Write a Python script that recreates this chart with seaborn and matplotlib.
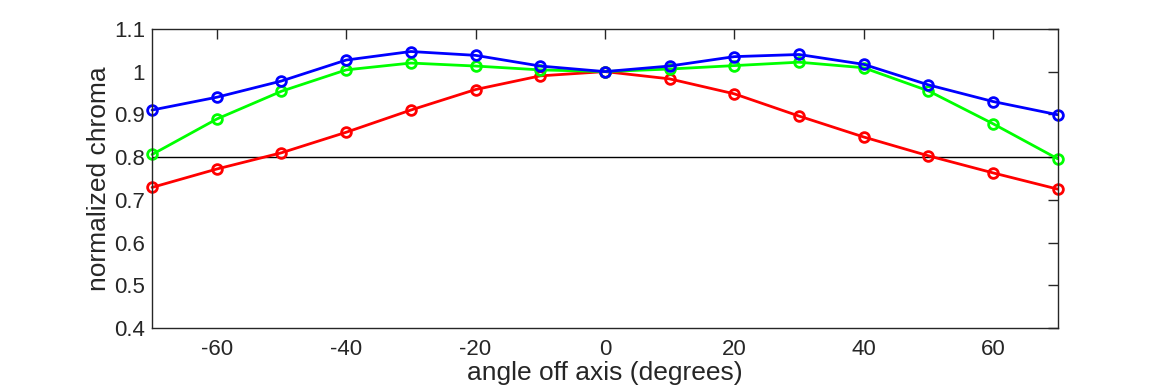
import numpy as np
import pandas as pd
import matplotlib
matplotlib.use("Agg")
import matplotlib.pyplot as plt
import seaborn as sns

angles = [-70, -60, -50, -40, -30, -20, -10, 0, 10, 20, 30, 40, 50, 60, 70]
red = [0.729, 0.772, 0.810, 0.858, 0.910, 0.958, 0.990, 1.000,
       0.983, 0.948, 0.896, 0.847, 0.803, 0.763, 0.725]
green = [0.806, 0.889, 0.954, 1.004, 1.020, 1.013, 1.004, 1.000,
         1.006, 1.014, 1.022, 1.009, 0.955, 0.878, 0.796]
blue = [0.910, 0.940, 0.978, 1.027, 1.047, 1.038, 1.013, 1.000,
        1.013, 1.035, 1.040, 1.017, 0.969, 0.930, 0.899]
reference_level = 0.8

df = pd.DataFrame({
    "angle": angles * 3,
    "chroma": red + green + blue,
    "channel": ["red"] * 15 + ["green"] * 15 + ["blue"] * 15,
})
palette = {"red": "#ff0000", "green": "#00ff00", "blue": "#0000ff"}

sns.set_style("white")
plt.rcParams["font.family"] = ["Liberation Sans", "DejaVu Sans"]
plt.rcParams["axes.unicode_minus"] = False

fig = plt.figure(figsize=(11.7, 3.9), dpi=100)
ax = fig.add_axes([0.130, 0.159, 0.774, 0.767])

ax.axhline(reference_level, color="black", linewidth=1, zorder=1)

sns.lineplot(
    data=df,
    x="angle",
    y="chroma",
    hue="channel",
    palette=palette,
    marker="o",
    markersize=7,
    markerfacecolor="none",
    markeredgewidth=2,
    linewidth=2,
    legend=False,
    ax=ax,
)
for line, c in zip(ax.get_lines()[1:], ["#ff0000", "#00ff00", "#0000ff"]):
    line.set_markeredgecolor(c)
    line.set_clip_on(False)

ax.set_xlim(-70, 70)
ax.set_ylim(0.4, 1.1)
ax.set_xticks([-60, -40, -20, 0, 20, 40, 60])
ax.set_yticks([0.4, 0.5, 0.6, 0.7, 0.8, 0.9, 1.0, 1.1])
ax.set_yticklabels(["0.4", "0.5", "0.6", "0.7", "0.8", "0.9", "1", "1.1"])
ax.tick_params(direction="in", length=7, width=1, top=True, right=True,
               labelsize=16, colors="#262626", pad=5)
ax.tick_params(axis="x", pad=8)
for s in ax.spines.values():
    s.set_color("#262626")
    s.set_linewidth(1)

ax.set_xlabel("angle off axis (degrees)", fontsize=19, color="#262626", labelpad=1)
ax.set_ylabel("normalized chroma", fontsize=19, color="#262626", labelpad=2)

fig.savefig("out.png", dpi=100)
